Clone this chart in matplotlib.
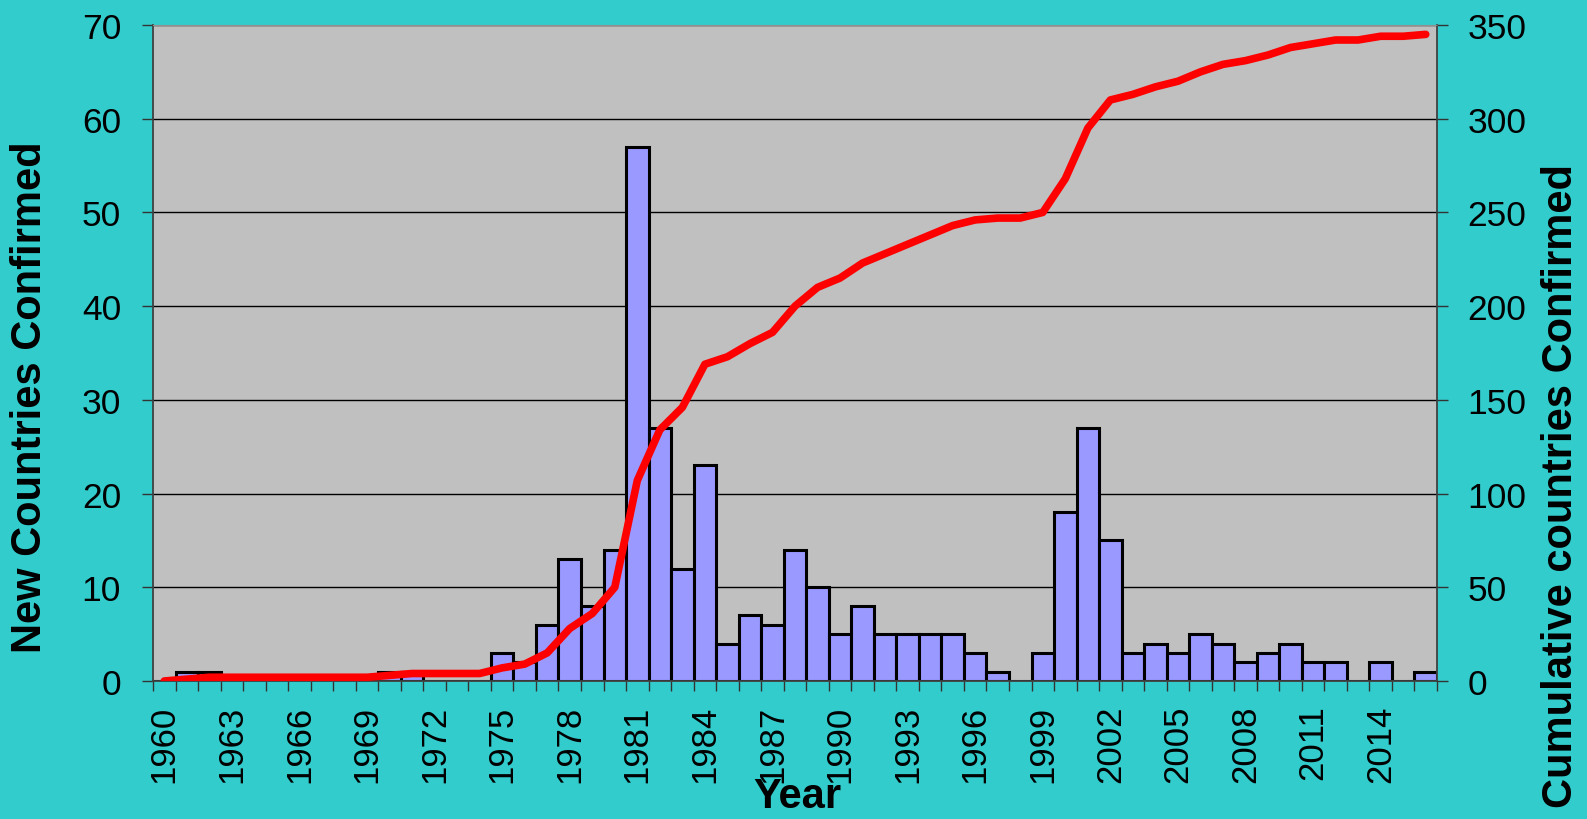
import numpy as np
import matplotlib
matplotlib.use("Agg")
import matplotlib.pyplot as plt
from matplotlib.ticker import FixedLocator

plt.rcParams['font.family'] = ['Liberation Sans', 'DejaVu Sans']

years = list(range(1960, 2017))
new_countries = [0, 1, 1, 0, 0, 0, 0, 0, 0, 0,
                 1, 1, 0, 0, 0, 3, 2, 6, 13, 8,
                 14, 57, 27, 12, 23, 4, 7, 6, 14, 10,
                 5, 8, 5, 5, 5, 5, 3, 1, 0, 3,
                 18, 27, 15, 3, 4, 3, 5, 4, 2, 3,
                 4, 2, 2, 0, 2, 0, 1]
cumulative = [0, 1, 2, 2, 2, 2, 2, 2, 2, 2,
              3, 4, 4, 4, 4, 7, 9, 15, 28, 36,
              50, 107, 134, 146, 169, 173, 180, 186, 200, 210,
              215, 223, 228, 233, 238, 243, 246, 247, 247, 250,
              268, 295, 310, 313, 317, 320, 325, 329, 331, 334,
              338, 340, 342, 342, 344, 344, 345]

bg = '#33CCCC'
fig = plt.figure(figsize=(15.87, 8.2), dpi=100, facecolor=bg)
ax = fig.add_axes([153/1587, 1-682/820, (1437-153)/1587, (682-26)/820])
ax.set_facecolor('#C0C0C0')

x = np.arange(len(years))
ax.bar(x, new_countries, width=1.0, color='#9999FF', edgecolor='black', linewidth=2.2, zorder=2)

ax.set_xlim(-0.5, len(years) - 0.5)
ax.set_ylim(0, 70)
ax.set_yticks(range(0, 71, 10))
ax.yaxis.grid(True, color='black', linewidth=1.0)
ax.set_axisbelow(True)

# labels at category centres every 3 years, tick marks at category boundaries
ax.set_xticks(x[::3])
ax.set_xticklabels([str(y) for y in years[::3]], rotation=90, fontsize=25)
ax.xaxis.set_minor_locator(FixedLocator(np.arange(-0.5, len(years), 1.0)))
ax.tick_params(axis='x', which='major', length=0, pad=17)
ax.tick_params(axis='x', which='minor', length=7, width=1, color='#333333', direction='out')
ax.tick_params(axis='y', labelsize=25.5, length=8, width=1, color='#333333', pad=15)

for side in ['left', 'right', 'bottom']:
    ax.spines[side].set_color('#404040')
    ax.spines[side].set_linewidth(1.3)
ax.spines['top'].set_color('#909090')

ax2 = ax.twinx()
ax2.plot(x, cumulative, color='#FF0000', linewidth=5.5, solid_capstyle='round', solid_joinstyle='round', zorder=5)
ax2.set_ylim(0, 350)
ax2.set_yticks(range(0, 351, 50))
ax2.tick_params(axis='y', labelsize=25.5, length=8, width=1, color='#333333', pad=14)
for side in ['left', 'right', 'bottom', 'top']:
    ax2.spines[side].set_visible(False)

fig.text(30/1587, 1-397/820, 'New Countries Confirmed', rotation=90, fontsize=30,
         fontweight='bold', ha='center', va='center')
fig.text(1561/1587, 1-486/820, 'Cumulative countries Confirmed', rotation=90, fontsize=30,
         fontweight='bold', ha='center', va='center')
fig.text(797/1587, 1-797/820, 'Year', fontsize=30, fontweight='bold', ha='center', va='center')

fig.savefig('out.png', dpi=100, facecolor=bg)
